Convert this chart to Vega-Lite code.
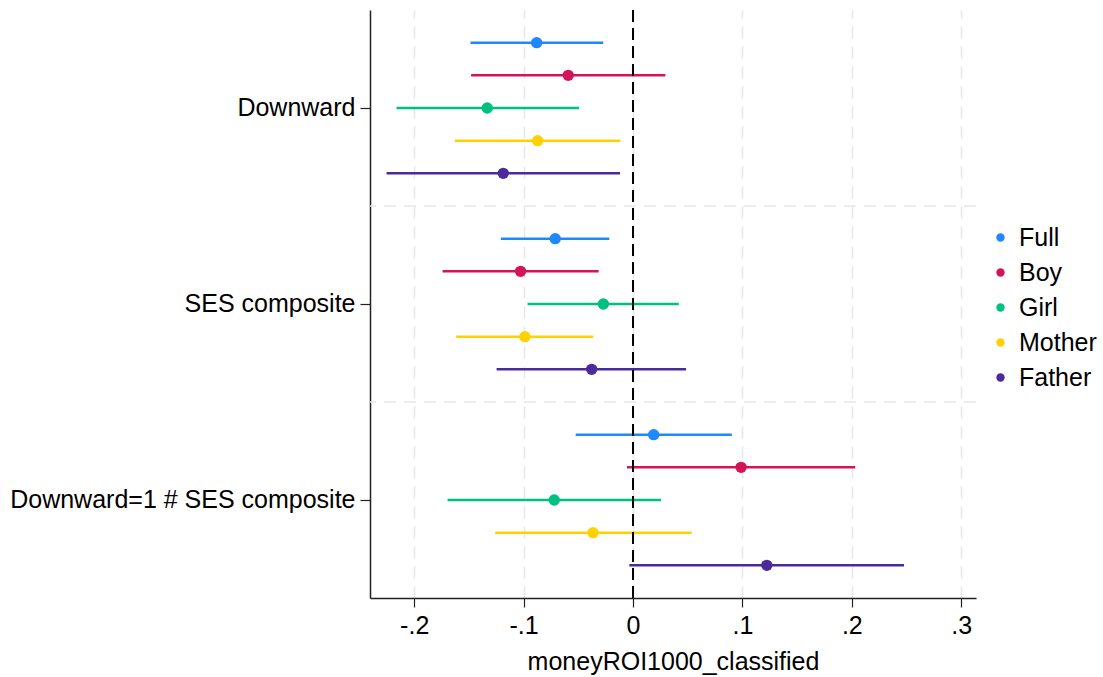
{
  "$schema": "https://vega.github.io/schema/vega-lite/v6.json",
  "width": 606,
  "height": 588,
  "autosize": {"type": "none"},
  "padding": {"left": 370, "top": 10, "right": 127, "bottom": 79},
  "background": "white",
  "config": {
    "view": {"stroke": null},
    "font": "Liberation Sans",
    "axis": {"labelFont": "Liberation Sans", "titleFont": "Liberation Sans"}
  },
  "data": {
    "values": [
      {"term": "Downward", "model": "Full", "b": -0.0881, "lo": -0.1485, "hi": -0.0272},
      {"term": "Downward", "model": "Boy", "b": -0.0592, "lo": -0.148, "hi": 0.0296},
      {"term": "Downward", "model": "Girl", "b": -0.1333, "lo": -0.2162, "hi": -0.0494},
      {"term": "Downward", "model": "Mother", "b": -0.0872, "lo": -0.1629, "hi": -0.0116},
      {"term": "Downward", "model": "Father", "b": -0.1186, "lo": -0.2253, "hi": -0.0119},
      {"term": "SES composite", "model": "Full", "b": -0.0711, "lo": -0.1208, "hi": -0.0217},
      {"term": "SES composite", "model": "Boy", "b": -0.1028, "lo": -0.1741, "hi": -0.0314},
      {"term": "SES composite", "model": "Girl", "b": -0.0271, "lo": -0.0964, "hi": 0.0418},
      {"term": "SES composite", "model": "Mother", "b": -0.0988, "lo": -0.1616, "hi": -0.0363},
      {"term": "SES composite", "model": "Father", "b": -0.0378, "lo": -0.1247, "hi": 0.0485},
      {"term": "Downward=1 # SES composite", "model": "Full", "b": 0.0189, "lo": -0.0524, "hi": 0.0903},
      {"term": "Downward=1 # SES composite", "model": "Boy", "b": 0.0988, "lo": -0.0055, "hi": 0.2031},
      {"term": "Downward=1 # SES composite", "model": "Girl", "b": -0.072, "lo": -0.1695, "hi": 0.0256},
      {"term": "Downward=1 # SES composite", "model": "Mother", "b": -0.0366, "lo": -0.126, "hi": 0.0537},
      {"term": "Downward=1 # SES composite", "model": "Father", "b": 0.1223, "lo": -0.0034, "hi": 0.2477}
    ]
  },
  "layer": [
    {
      "transform": [
        {"filter": "datum.term != 'Downward'"},
        {"aggregate": [{"op": "count", "as": "n"}], "groupby": ["term"]}
      ],
      "mark": {"type": "rule", "color": "#e6e6e6", "strokeDash": [12, 8], "strokeWidth": 1.5},
      "encoding": {
        "y": {"field": "term", "type": "nominal", "bandPosition": 0, "sort": ["Downward", "SES composite", "Downward=1 # SES composite"]}
      }
    },
    {
      "mark": {"type": "rule", "strokeWidth": 2.5},
      "encoding": {
        "y": {
          "field": "term", "type": "nominal",
          "sort": ["Downward", "SES composite", "Downward=1 # SES composite"],
          "scale": {"paddingInner": 0, "paddingOuter": 0},
          "axis": {
            "title": null, "grid": false, "domain": true, "domainColor": "#222222", "domainWidth": 1.5,
            "ticks": true, "tickColor": "#222222", "tickSize": 10, "tickWidth": 1.2,
            "labelFontSize": 25, "labelColor": "black", "labelPadding": 5, "labelLimit": 400
          }
        },
        "yOffset": {
          "field": "model", "type": "nominal",
          "sort": ["Full", "Boy", "Girl", "Mother", "Father"],
          "scale": {"type": "point", "padding": 1}
        },
        "x": {
          "field": "lo", "type": "quantitative",
          "scale": {"domain": [-0.2404, 0.3135], "nice": false, "zero": false},
          "axis": {
            "values": [-0.2, -0.1, 0, 0.1, 0.2, 0.3],
            "labelExpr": "datum.value == 0 ? '0' : (datum.value < 0 ? '-' : '') + '.' + format(abs(datum.value) * 10, '.0f')",
            "title": "moneyROI1000_classified", "titleFontSize": 25, "titleFontWeight": "normal", "titleColor": "black", "titlePadding": 11,
            "labelFontSize": 25, "labelColor": "black", "labelPadding": 6,
            "domainColor": "#222222", "domainWidth": 1.5, "tickColor": "#222222", "tickSize": 9, "tickWidth": 1.2,
            "grid": true, "gridColor": "#e6e6e6", "gridDash": [12, 8], "gridWidth": 1.5
          }
        },
        "x2": {"field": "hi"},
        "color": {
          "field": "model", "type": "nominal",
          "sort": ["Full", "Boy", "Girl", "Mother", "Father"],
          "scale": {"domain": ["Full", "Boy", "Girl", "Mother", "Father"], "range": ["#1E88FF", "#D4145A", "#00C07F", "#FFD100", "#4B2A9B"]},
          "legend": {
            "title": null, "orient": "none", "legendX": 618, "legendY": 215,
            "symbolType": "circle", "symbolSize": 70, "symbolStrokeWidth": 0,
            "labelFontSize": 25, "labelColor": "black", "labelFont": "Liberation Sans",
            "labelOffset": 6, "rowPadding": 9, "padding": 0, "labelLimit": 300
          }
        }
      }
    },
    {
      "mark": {"type": "rule", "color": "black", "strokeDash": [12, 6], "strokeWidth": 2},
      "data": {"values": [{"ref": 0}]},
      "encoding": {"x": {"field": "ref", "type": "quantitative"}}
    },
    {
      "mark": {"type": "point", "filled": true, "opacity": 1, "size": 130, "shape": "circle"},
      "encoding": {
        "y": {
          "field": "term", "type": "nominal",
          "sort": ["Downward", "SES composite", "Downward=1 # SES composite"]
        },
        "yOffset": {
          "field": "model", "type": "nominal",
          "sort": ["Full", "Boy", "Girl", "Mother", "Father"]
        },
        "x": {"field": "b", "type": "quantitative"},
        "color": {
          "field": "model", "type": "nominal",
          "sort": ["Full", "Boy", "Girl", "Mother", "Father"],
          "legend": {
            "title": null, "orient": "none", "legendX": 618, "legendY": 215,
            "symbolType": "circle", "symbolSize": 70, "symbolStrokeWidth": 0,
            "labelFontSize": 25, "labelColor": "black", "labelFont": "Liberation Sans",
            "labelOffset": 6, "rowPadding": 9, "padding": 0, "labelLimit": 300
          }
        }
      }
    }
  ]
}
